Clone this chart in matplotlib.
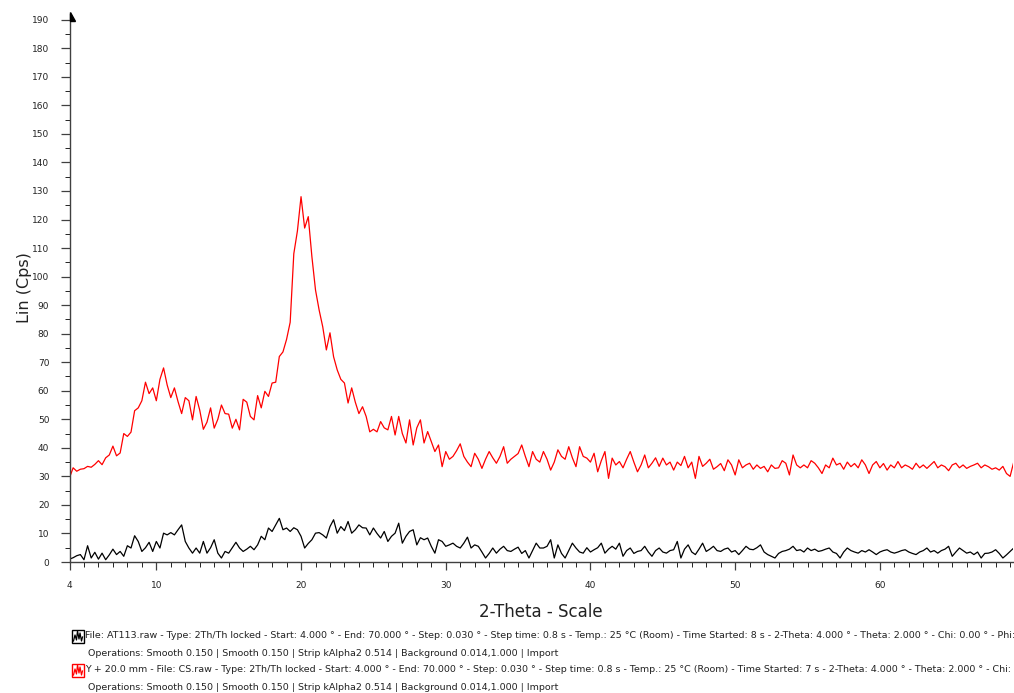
import numpy as np
import matplotlib
matplotlib.use('Agg')
import matplotlib.pyplot as plt
from matplotlib.patches import Rectangle, Polygon
from matplotlib.lines import Line2D

# Données lues sur le diffractogramme (pas de 0.25 ° à partir de 4 °)
start_2theta = 4.0
step_2theta = 0.25

# CS.raw (décalé de Y + 20 mm), en rouge
cs_counts = [
    29.5, 33.0, 31.8, 32.5, 32.7, 33.5, 33.2, 34.2, 35.5, 34.1,
    36.5, 37.5, 40.6, 37.2, 38.2, 45.0, 44.0, 45.5, 53.0, 54.0,
    56.5, 63.0, 59.0, 61.0, 56.5, 64.0, 68.0, 62.0, 57.6, 61.0,
    56.2, 52.0, 57.6, 56.5, 49.8, 58.0, 53.2, 46.5, 49.0, 54.0,
    46.9, 50.0, 55.0, 52.0, 51.8, 46.9, 50.0, 46.3, 57.0, 56.0,
    51.0, 49.8, 58.3, 54.0, 59.8, 58.0, 62.7, 63.0, 72.0, 73.6,
    78.0, 84.0, 108.0, 116.0, 128.0, 117.0, 121.0, 107.0, 95.3, 88.3,
    82.4, 74.3, 80.3, 71.9, 67.3, 64.0, 62.7, 55.7, 61.0, 56.0,
    52.0, 54.4, 51.0, 45.6, 46.5, 45.6, 49.2, 47.0, 46.3, 51.0,
    44.5, 51.0, 45.0, 41.7, 49.8, 41.0, 47.0, 49.8, 41.7, 45.7,
    42.2, 38.7, 41.0, 33.4, 38.7, 36.0, 37.0, 39.0, 41.4, 37.0,
    35.0, 33.4, 38.1, 36.0, 32.8, 36.0, 38.7, 36.5, 34.6, 37.0,
    40.4, 34.6, 36.0, 37.0, 38.0, 41.0, 37.0, 33.4, 38.7, 36.0,
    35.0, 38.7, 36.0, 32.2, 35.0, 39.3, 37.0, 36.0, 40.4, 36.5,
    33.4, 40.4, 37.0, 36.4, 35.0, 38.1, 31.6, 35.5, 38.7, 29.3,
    36.4, 34.0, 35.2, 33.0, 36.0, 38.7, 35.0, 31.6, 34.0, 37.5,
    33.0, 34.6, 36.5, 33.5, 36.4, 34.0, 35.0, 32.2, 35.0, 33.8,
    37.0, 33.0, 35.0, 29.3, 37.0, 33.5, 34.6, 36.0, 32.5, 33.4,
    34.5, 32.0, 35.8, 34.0, 30.5, 35.8, 33.0, 34.0, 34.6, 32.5,
    34.0, 32.8, 33.5, 31.6, 34.0, 32.8, 33.0, 35.5, 34.6, 30.5,
    37.5, 34.0, 33.0, 34.0, 33.0, 35.5, 34.6, 33.0, 31.0, 34.0,
    33.0, 36.4, 34.0, 34.6, 32.5, 35.0, 33.4, 34.5, 33.0, 35.8,
    34.0, 31.0, 34.0, 35.2, 33.0, 34.5, 32.2, 34.0, 33.0, 35.2,
    33.0, 34.0, 33.4, 32.5, 34.6, 33.0, 34.0, 32.8, 34.0, 35.2,
    33.0, 34.0, 33.4, 32.0, 34.0, 34.6, 33.0, 34.0, 32.8, 33.5,
    34.0, 34.6, 33.0, 34.0, 33.4, 32.5, 33.0, 32.2, 33.5, 31.0,
    30.0, 35.0,
]

# AT113.raw, en noir
at113_counts = [
    1.0, 1.5, 2.2, 2.6, 0.8, 5.7, 1.4, 3.4, 1.0, 3.1,
    0.8, 2.5, 4.5, 2.6, 3.7, 2.0, 5.7, 4.9, 9.2, 7.2,
    3.7, 5.0, 6.9, 3.7, 7.2, 4.9, 10.1, 9.5, 10.3, 9.5,
    11.3, 13.0, 7.2, 4.9, 3.1, 4.9, 3.1, 7.2, 3.1, 5.0,
    7.8, 3.1, 1.4, 3.7, 3.1, 5.0, 6.9, 4.9, 3.7, 4.5,
    5.5, 4.3, 6.0, 9.0, 7.8, 11.9, 10.7, 13.0, 15.3, 11.3,
    11.9, 10.7, 12.0, 11.3, 9.0, 4.9, 6.5, 7.8, 10.1, 10.3,
    9.5, 8.4, 12.4, 14.8, 10.1, 12.4, 11.0, 14.2, 10.1, 11.3,
    13.0, 12.0, 11.9, 9.5, 11.9, 10.0, 8.4, 10.7, 7.2, 9.0,
    10.1, 13.6, 6.6, 9.0, 10.7, 11.3, 6.0, 8.5, 7.8, 8.4,
    5.5, 3.1, 7.8, 7.2, 5.5, 6.0, 6.6, 5.5, 4.9, 6.6,
    8.7, 4.9, 6.0, 5.5, 3.5, 1.4, 3.0, 4.9, 3.1, 4.5,
    5.5, 4.0, 3.7, 4.5, 5.2, 3.0, 4.0, 1.4, 4.0, 6.6,
    4.9, 4.9, 5.5, 7.8, 1.4, 6.0, 3.0, 1.4, 4.0, 6.6,
    4.9, 3.5, 3.1, 5.0, 3.5, 4.3, 5.0, 6.6, 3.1, 4.5,
    5.5, 4.5, 6.6, 2.0, 4.0, 4.9, 3.0, 3.7, 4.0, 5.5,
    3.5, 2.0, 4.0, 4.9, 3.5, 3.1, 4.0, 4.3, 7.2, 1.4,
    4.5, 6.0, 3.5, 2.6, 4.5, 6.6, 3.7, 4.5, 5.5, 4.0,
    3.7, 4.5, 4.9, 3.5, 4.0, 2.6, 4.0, 5.5, 4.5, 4.3,
    5.0, 6.0, 3.5, 2.6, 2.0, 1.4, 3.0, 3.7, 4.0, 4.5,
    5.5, 4.0, 4.3, 3.5, 4.9, 4.0, 4.5, 3.7, 4.0, 4.5,
    4.9, 3.5, 3.0, 1.4, 3.5, 4.9, 4.0, 3.5, 3.1, 4.0,
    3.5, 4.3, 3.5, 2.6, 3.5, 4.0, 4.3, 3.5, 3.1, 3.5,
    4.0, 4.3, 3.5, 3.0, 2.6, 3.5, 4.0, 4.9, 3.5, 4.0,
    3.1, 4.0, 4.5, 5.5, 2.0, 3.5, 4.9, 4.0, 3.1, 3.5,
    2.6, 3.5, 1.4, 3.0, 3.1, 3.5, 4.3, 3.0, 1.4, 2.5,
    3.7, 4.9,
]

x_ticks = [4, 10, 20, 30, 40, 50, 60]
y_ticks = list(range(0, 200, 10))

legend_lines = [
    "File: AT113.raw - Type: 2Th/Th locked - Start: 4.000 ° - End: 70.000 ° - Step: 0.030 ° - Step time: 0.8 s - Temp.: 25 °C (Room) - Time Started: 8 s - 2-Theta: 4.000 ° - Theta: 2.000 ° - Chi: 0.00 ° - Phi:",
    "Operations: Smooth 0.150 | Smooth 0.150 | Strip kAlpha2 0.514 | Background 0.014,1.000 | Import",
    "Y + 20.0 mm - File: CS.raw - Type: 2Th/Th locked - Start: 4.000 ° - End: 70.000 ° - Step: 0.030 ° - Step time: 0.8 s - Temp.: 25 °C (Room) - Time Started: 7 s - 2-Theta: 4.000 ° - Theta: 2.000 ° - Chi:",
    "Operations: Smooth 0.150 | Smooth 0.150 | Strip kAlpha2 0.514 | Background 0.014,1.000 | Import",
]

two_theta = start_2theta + step_2theta * np.arange(len(cs_counts))

W, H = 1014, 693
fig = plt.figure(figsize=(W / 100, H / 100), dpi=100)


def fx(px):
    return px / W


def fy(py):
    return 1 - py / H


ax = fig.add_axes([fx(69.5), fy(562), fx(1013) - fx(69.5), fy(14) - fy(562)])
ax.plot(two_theta, at113_counts, color='black', lw=0.9)
ax.plot(two_theta, cs_counts, color='#ff0000', lw=0.9)

ax.set_xlim(4, 69.2)
ax.set_ylim(0, 192)
for s in ['top', 'right']:
    ax.spines[s].set_visible(False)
for s in ['left', 'bottom']:
    ax.spines[s].set_color('#404040')
    ax.spines[s].set_linewidth(1.0)

ax.set_xticks(x_ticks)
ax.set_xticks(np.arange(5, 70, 1), minor=True)
ax.set_yticks(y_ticks)
ax.set_yticks(np.arange(5, 195, 10), minor=True)
ax.tick_params(axis='both', colors='#404040', labelcolor='#222222', labelsize=6.5, width=0.9)
ax.tick_params(axis='x', which='major', length=6, pad=8)
ax.tick_params(axis='x', which='minor', length=3.5)
ax.tick_params(axis='y', which='major', length=6.5, pad=8)
ax.tick_params(axis='y', which='minor', length=3.5)

ax.set_xlabel('2-Theta - Scale', fontsize=12, color='#222222', labelpad=9)
ax.set_ylabel('Lin (Cps)', fontsize=11.5, color='#222222', labelpad=0)

# flèche en haut de l'axe Y
fig.add_artist(Polygon([(fx(69.5), fy(12)), (fx(69.5), fy(21)), (fx(74.5), fy(21))],
                       closed=True, color='black', transform=fig.transFigure))

# légende en bas
ys = [636, 653, 670, 687]
xs = [85, 88, 85, 88]
texts = []
for txt, px, py in zip(legend_lines, xs, ys):
    t = fig.text(fx(px), fy(py), txt, fontsize=7, color='#222222', va='center', ha='left')
    texts.append(t)

fig.canvas.draw()
r = fig.canvas.get_renderer()
sizes = []
for i in [0, 2]:
    bb = texts[i].get_window_extent(r)
    fs = 7 * (1012 - xs[i]) / bb.width
    texts[i].set_fontsize(fs)
    sizes.append(fs)
for i in [1, 3]:
    texts[i].set_fontsize(min(sizes))

for py, col in [(636, 'black'), (670, '#ff0000')]:
    fig.add_artist(Rectangle((fx(72), fy(py + 6.5)), fx(12), fy(py - 6.5) - fy(py + 6.5),
                             fill=False, edgecolor=col, lw=1.0, transform=fig.transFigure))
    zx = [73.5, 75, 76.5, 77.5, 79, 80, 81.5, 82.5]
    zy = [py + 5, py - 1, py + 4, py - 5, py + 3, py - 3, py + 5, py + 1]
    fig.add_artist(Line2D([fx(v) for v in zx], [fy(v) for v in zy], color=col, lw=0.9,
                          transform=fig.transFigure))

fig.savefig('out.png', dpi=100)
